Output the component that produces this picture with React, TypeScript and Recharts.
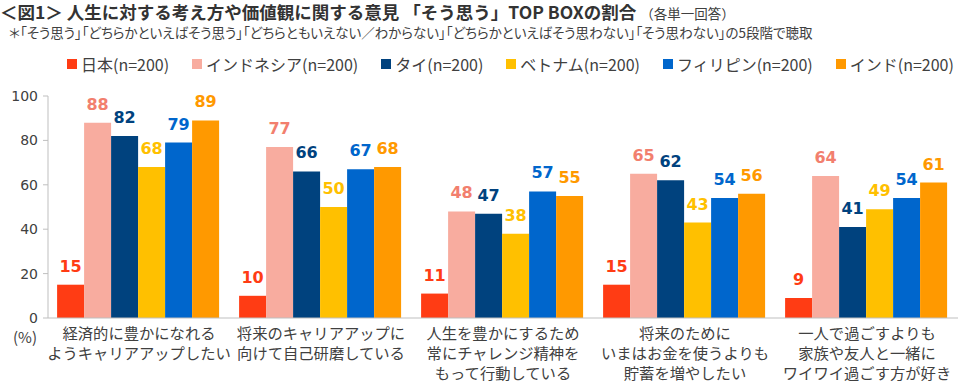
import { Bar, BarChart, LabelList, XAxis, YAxis } from "recharts";

const categories = [
  "経済的に豊かになれる\nようキャリアアップしたい",
  "将来のキャリアアップに\n向けて自己研磨している",
  "人生を豊かにするため\n常にチャレンジ精神を\nもって行動している",
  "将来のために\nいまはお金を使うよりも\n貯蓄を増やしたい",
  "一人で過ごすよりも\n家族や友人と一緒に\nワイワイ過ごす方が好き",
];

const japan = [15, 10, 11, 15, 9];
const indonesia = [88, 77, 48, 65, 64];
const thailand = [82, 66, 47, 62, 41];
const vietnam = [68, 50, 38, 43, 49];
const philippines = [79, 67, 57, 54, 54];
const india = [89, 68, 55, 56, 61];

const yTicks = [0, 20, 40, 60, 80, 100];

const series = [
  { key: "japan", name: "日本(n=200)", values: japan, color: "#FF3C14", labelColor: "#FF3C14" },
  { key: "indonesia", name: "インドネシア(n=200)", values: indonesia, color: "#F8AC9F", labelColor: "#F27F6E" },
  { key: "thailand", name: "タイ(n=200)", values: thailand, color: "#00427E", labelColor: "#00427E" },
  { key: "vietnam", name: "ベトナム(n=200)", values: vietnam, color: "#FFC000", labelColor: "#FFC000" },
  { key: "philippines", name: "フィリピン(n=200)", values: philippines, color: "#0066CC", labelColor: "#0066CC" },
  { key: "india", name: "インド(n=200)", values: india, color: "#FF9900", labelColor: "#FF9900" },
];

const data = categories.map((c, i) => {
  const row: any = { category: c };
  series.forEach((s) => {
    row[s.key] = s.values[i];
  });
  return row;
});

const JP = "'Noto Sans CJK JP', 'Noto Sans', sans-serif";
const NUM = "'DejaVu Sans', Verdana, sans-serif";

function CategoryTick(props: any) {
  const { x, y, payload } = props;
  const lines = String(payload.value).split("\n");
  return (
    <g>
      {lines.map((line, i) => (
        <text
          key={i}
          x={x}
          y={y + 21 + i * 20}
          textAnchor="middle"
          fill="#404040"
          fontSize={15.3}
          fontFamily={JP}
        >
          {line}
        </text>
      ))}
    </g>
  );
}

export default function App() {
  return (
    <div
      style={{
        position: "absolute",
        left: 0,
        top: 0,
        width: 964,
        height: 383,
        background: "#fff",
        fontFamily: JP,
        color: "#404040",
      }}
    >
      <div style={{ position: "absolute", left: 0, top: 0, whiteSpace: "nowrap", lineHeight: "24px", height: 24 }}>
        <span style={{ fontSize: 17.5, fontWeight: "bold", color: "#333" }}>
          ＜図1＞ 人生に対する考え方や価値観に関する意見 「そう思う」TOP BOXの割合
        </span>
        <span style={{ fontSize: 13.5, marginLeft: 4 }}>（各単一回答）</span>
      </div>
      <div
        style={{
          position: "absolute",
          left: 9,
          top: 24,
          fontSize: 13.5,
          whiteSpace: "nowrap",
          lineHeight: "16px",
          fontFeatureSettings: '"palt"',
        }}
      >
        ＊「そう思う」「どちらかといえばそう思う」「どちらともいえない／わからない」「どちらかといえばそう思わない」「そう思わない」の5段階で聴取
      </div>
      <div
        style={{
          position: "absolute",
          left: 67,
          top: 52,
          display: "flex",
          gap: 23,
          whiteSpace: "nowrap",
          fontSize: 16,
          lineHeight: "24px",
        }}
      >
        {series.map((s) => (
          <div key={s.key} style={{ display: "flex", alignItems: "center" }}>
            <span style={{ width: 10, height: 10, background: s.color, marginRight: 4 }} />
            <span>{s.name}</span>
          </div>
        ))}
      </div>
      <div style={{ position: "absolute", left: 13, top: 326, fontSize: 15, lineHeight: "22px" }}>(%)</div>
      <div style={{ position: "absolute", left: 0, top: 0 }}>
        <BarChart
          width={964}
          height={383}
          data={data}
          margin={{ top: 96, right: 6, bottom: 0, left: 0 }}
          barCategoryGap="5%"
          barGap={0}
        >
          <XAxis
            dataKey="category"
            height={65}
            tick={<CategoryTick />}
            tickLine={false}
            tickSize={0}
            tickMargin={0}
            interval={0}
            axisLine={{ stroke: "#BFBFBF" }}
          />
          <YAxis
            width={48}
            domain={[0, 100]}
            ticks={yTicks}
            tickSize={5}
            tickMargin={5}
            tickLine={{ stroke: "#BFBFBF" }}
            axisLine={{ stroke: "#BFBFBF" }}
            tick={{ fill: "#404040", fontSize: 14, fontFamily: NUM }}
          />
          {series.map((s) => (
            <Bar key={s.key} dataKey={s.key} name={s.name} fill={s.color} isAnimationActive={false}>
              <LabelList
                dataKey={s.key}
                position="top"
                offset={13}
                fill={s.labelColor}
                fontSize={16}
                fontWeight="bold"
                fontFamily={NUM}
              />
            </Bar>
          ))}
        </BarChart>
      </div>
    </div>
  );
}
